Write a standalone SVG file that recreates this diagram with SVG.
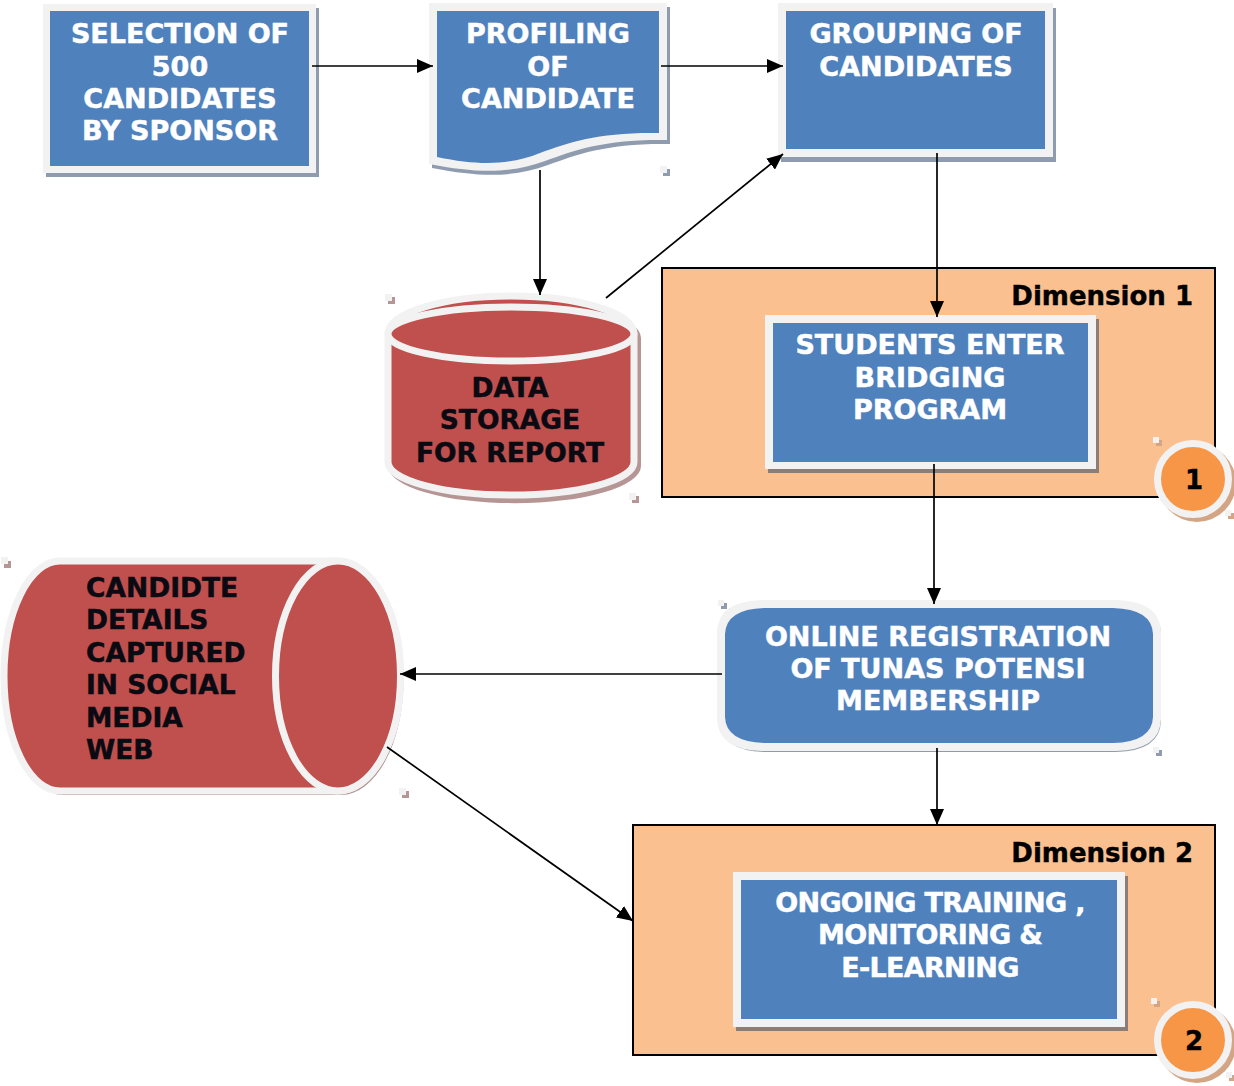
<svg xmlns="http://www.w3.org/2000/svg" width="1234" height="1086" viewBox="0 0 1234 1086">
  <defs>
    <style>
      text { font-family: "DejaVu Sans", Verdana, sans-serif; font-weight: bold; }
      .wt { fill: #ffffff; stroke: #ffffff; stroke-width: 0.5; font-size: 27px; text-anchor: middle; }
      .bt { fill: #0a0a12; stroke: #0a0a12; stroke-width: 0.5; font-size: 26.5px; }
      .dim { fill: #000000; stroke: #000000; stroke-width: 0.4; font-size: 26px; text-anchor: end; }
      .num { fill: #000000; stroke: #000000; stroke-width: 0.4; font-size: 26px; text-anchor: middle; }
      .frame { fill: #f2f2f2; }
      .blue { fill: #4f81bd; }
      .bshadow { fill: #1f3a60; fill-opacity: 0.5; }
      .red { fill: #c0504d; stroke: #f2f2f2; stroke-width: 7; }
      .rshadow { fill: #6b2d2b; fill-opacity: 0.5; }
      .container { fill: #fac08f; stroke: #000000; stroke-width: 2; }
      .badge { fill: #f79646; stroke: #f2f2f2; stroke-width: 7; }
      .oshadow { fill: #d4a584; }
      .handle { fill: #f2f2f2; }
      .conn { fill: none; stroke: #000000; stroke-width: 1.7; marker-end: url(#arrow); }
    </style>
    <marker id="arrow" viewBox="0 0 16 14" refX="16" refY="7" markerWidth="16" markerHeight="14" markerUnits="userSpaceOnUse" orient="auto">
      <path d="M0,0 L16,7 L0,14 Z" fill="#000000"/>
    </marker>
  </defs>

  <!-- Dimension containers -->
  <g id="dimension-1">
    <rect class="container" x="662" y="268" width="553" height="229"/>
    <text class="dim" x="1193" y="305">Dimension 1</text>
  </g>
  <g id="dimension-2">
    <rect class="container" x="633" y="825" width="582" height="230"/>
    <text class="dim" x="1193" y="862">Dimension 2</text>
  </g>

  <!-- Selection box -->
  <g id="selection">
    <rect class="bshadow" x="46" y="8" width="273" height="169"/>
    <rect class="frame" x="43" y="4" width="273" height="169"/>
    <rect class="blue" x="50" y="11" width="259" height="155"/>
    <text class="wt" x="180" y="43">SELECTION OF</text>
    <text class="wt" x="180" y="75.5">500</text>
    <text class="wt" x="180" y="108">CANDIDATES</text>
    <text class="wt" x="180" y="140">BY SPONSOR</text>
  </g>

  <!-- Profiling document -->
  <g id="profiling">
    <path class="bshadow" d="M432,7 H670 V144 C608,143 578,154 548,165 C515,177 483,178 432,168 Z"/>
    <path class="frame" d="M429,3 H667 V140 C605,139 575,150 545,161 C512,173 480,174 429,164 Z"/>
    <path class="blue" d="M437,11 H659 V133 C600,132 570,142 540,153 C510,165 480,166 437,157 Z"/>
    <rect class="bshadow" x="663" y="169" width="7" height="7"/>
    <rect class="handle" x="660" y="166" width="7" height="7"/>
    <text class="wt" x="548" y="43">PROFILING</text>
    <text class="wt" x="548" y="75.5">OF</text>
    <text class="wt" x="548" y="108">CANDIDATE</text>
  </g>

  <!-- Grouping box -->
  <g id="grouping">
    <rect class="bshadow" x="781" y="8" width="275" height="154"/>
    <rect class="frame" x="778" y="3" width="275" height="154"/>
    <rect class="blue" x="786" y="11" width="259" height="138"/>
    <text class="wt" x="916" y="43">GROUPING OF</text>
    <text class="wt" x="916" y="75.5">CANDIDATES</text>
  </g>

  <!-- Data storage cylinder -->
  <g id="data-storage">
    <path class="rshadow" d="M388,338 A123,36 0 0 1 641,338 V466 A126,37 0 0 1 388,466 Z"/>
    <path class="red" d="M388,334 A123,38 0 0 1 634,334 V462 A123,33 0 0 1 388,462 Z"/>
    <ellipse class="red" cx="511" cy="334" rx="123" ry="27"/>
    <rect class="rshadow" x="388" y="297" width="7" height="7"/>
    <rect class="handle" x="385" y="294" width="7" height="7"/>
    <rect class="rshadow" x="632" y="496" width="7" height="7"/>
    <rect class="handle" x="629" y="493" width="7" height="7"/>
    <text class="bt" x="510" y="397" text-anchor="middle">DATA</text>
    <text class="bt" x="510" y="429" text-anchor="middle">STORAGE</text>
    <text class="bt" x="510" y="462" text-anchor="middle">FOR REPORT</text>
  </g>

  <!-- Bridging program -->
  <g id="bridging">
    <rect class="bshadow" x="768" y="319" width="331" height="154"/>
    <rect class="frame" x="765" y="315" width="331" height="154"/>
    <rect class="blue" x="773" y="323" width="315" height="139"/>
    <text class="wt" x="930" y="354">STUDENTS ENTER</text>
    <text class="wt" x="930" y="387">BRIDGING</text>
    <text class="wt" x="930" y="419">PROGRAM</text>
  </g>

  <!-- Badge 1 -->
  <g id="badge-1">
    <circle class="oshadow" cx="1197" cy="483" r="39"/>
    <circle class="badge" cx="1193" cy="479" r="35.5"/>
    <rect class="oshadow" x="1156" y="440" width="6" height="6"/>
    <rect class="handle" x="1153" y="437" width="6" height="6"/>
    <rect class="oshadow" x="1228" y="513" width="6" height="6"/>
    <rect class="handle" x="1225" y="510" width="6" height="6"/>
    <text class="num" x="1194" y="489">1</text>
  </g>

  <!-- Social media web cylinder -->
  <g id="social-media">
    <path class="rshadow" d="M63,565 H341 A62.5,115 0 0 1 341,795 H63 A56,115 0 0 1 63,565 Z"/>
    <path class="red" d="M60,561 H338 A62.5,115 0 0 1 338,791 H60 A56,115 0 0 1 60,561 Z"/>
    <ellipse class="red" cx="338" cy="676" rx="62.5" ry="115" stroke-width="8"/>
    <rect class="rshadow" x="4" y="561" width="7" height="7"/>
    <rect class="handle" x="1" y="557" width="7" height="7"/>
    <rect class="rshadow" x="402" y="791" width="7" height="7"/>
    <rect class="handle" x="399" y="788" width="7" height="7"/>
    <text class="bt" x="86" y="597">CANDIDTE</text>
    <text class="bt" x="86" y="629">DETAILS</text>
    <text class="bt" x="86" y="662">CAPTURED</text>
    <text class="bt" x="86" y="694">IN SOCIAL</text>
    <text class="bt" x="86" y="727">MEDIA</text>
    <text class="bt" x="86" y="759">WEB</text>
  </g>

  <!-- Online registration -->
  <g id="online-registration">
    <path class="bshadow" d="M720,634 Q721,604 765,603 H1116 Q1160,604 1161,634 V721 Q1160,751 1116,752 H765 Q721,751 720,721 Z"/>
    <path class="frame" d="M717,632 Q718,601 762,600 H1116 Q1160,601 1161,632 V719 Q1160,750 1116,751 H762 Q718,750 717,719 Z"/>
    <path class="blue" d="M725,634 Q726,609 765,608 H1113 Q1152,609 1153,634 V717 Q1152,742 1113,743 H765 Q726,742 725,717 Z"/>
    <rect class="bshadow" x="721" y="603" width="6" height="6"/>
    <rect class="handle" x="718" y="600" width="6" height="6"/>
    <rect class="bshadow" x="1156" y="750" width="6" height="6"/>
    <rect class="handle" x="1153" y="747" width="6" height="6"/>
    <text class="wt" x="938" y="646">ONLINE REGISTRATION</text>
    <text class="wt" x="938" y="678">OF TUNAS POTENSI</text>
    <text class="wt" x="938" y="710">MEMBERSHIP</text>
  </g>

  <!-- Ongoing training -->
  <g id="ongoing-training">
    <rect class="bshadow" x="736" y="876" width="392" height="155"/>
    <rect class="frame" x="733" y="872" width="392" height="155"/>
    <rect class="blue" x="741" y="880" width="376" height="139"/>
    <text class="wt" x="930" y="912" letter-spacing="-0.7">ONGOING TRAINING ,</text>
    <text class="wt" x="930" y="944" letter-spacing="-0.7">MONITORING &amp;</text>
    <text class="wt" x="930" y="977" letter-spacing="-0.7">E-LEARNING</text>
  </g>

  <!-- Badge 2 -->
  <g id="badge-2">
    <circle class="oshadow" cx="1197" cy="1044" r="39"/>
    <circle class="badge" cx="1193" cy="1040" r="35.5"/>
    <rect class="oshadow" x="1154" y="1001" width="6" height="6"/>
    <rect class="handle" x="1151" y="998" width="6" height="6"/>
    <rect class="oshadow" x="1229" y="1075" width="6" height="6"/>
    <rect class="handle" x="1226" y="1072" width="6" height="6"/>
    <text class="num" x="1194" y="1050">2</text>
  </g>

  <!-- Connectors -->
  <g id="connectors">
    <line class="conn" x1="312" y1="66" x2="433" y2="66"/>
    <line class="conn" x1="661" y1="66" x2="783" y2="66"/>
    <line class="conn" x1="540" y1="170" x2="540" y2="295"/>
    <line class="conn" x1="606" y1="298" x2="783" y2="154"/>
    <line class="conn" x1="937" y1="153" x2="937" y2="317"/>
    <line class="conn" x1="934" y1="464" x2="934" y2="604"/>
    <line class="conn" x1="722" y1="674" x2="400" y2="674"/>
    <line class="conn" x1="937" y1="748" x2="937" y2="825"/>
    <line class="conn" x1="387" y1="747" x2="633" y2="921"/>
  </g>
</svg>
